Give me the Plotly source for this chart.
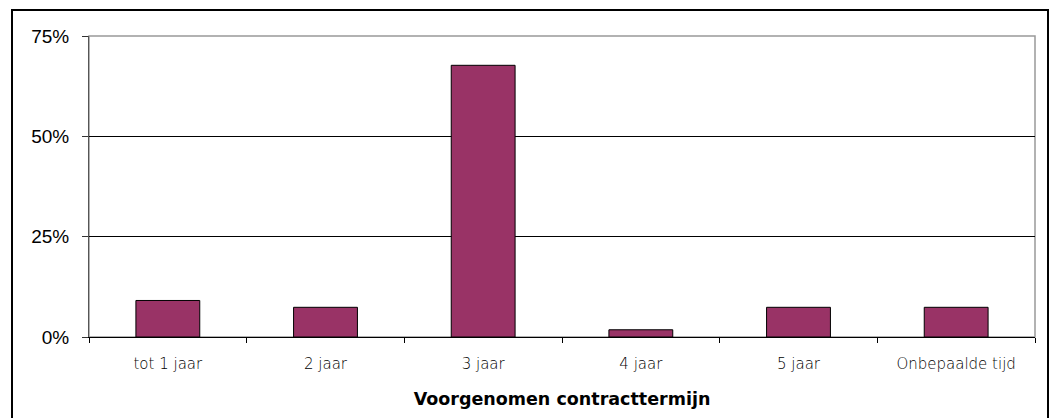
import plotly.graph_objects as go

categories = ["tot 1 jaar", "2 jaar", "3 jaar", "4 jaar", "5 jaar", "Onbepaalde tijd"]
values = [9.1, 7.4, 67.7, 1.8, 7.4, 7.4]
y_ticks = [0, 25, 50, 75]
y_tick_labels = ["0%", "25%", "50%", "75%"]
x_title = "Voorgenomen contracttermijn"

W, H = 1052, 418
L, R, T, B = 89, 17, 36, 81
pw, ph = W - L - R, H - T - B

fig = go.Figure(go.Bar(
    x=categories, y=values,
    marker=dict(color="#993366", line=dict(color="#000000", width=1)),
    width=0.405,
))

def px_x(p):
    return (p - L) / pw

def px_y(p):
    return (H - B - p) / ph

fig.update_layout(
    width=W, height=H,
    margin=dict(l=L, r=R, t=T, b=B),
    paper_bgcolor="white", plot_bgcolor="white",
    showlegend=False,
    xaxis=dict(
        type="category",
        tickson="boundaries",
        ticks="outside", ticklen=5, tickcolor="#000000",
        ticklabelstandoff=13,
        showline=True, linecolor="#000000", linewidth=1,
        showgrid=False,
        tickfont=dict(family="DejaVu Sans", size=15, weight=200, color="#000000"),
        title=dict(text="<b>" + x_title + "</b>",
                   font=dict(family="DejaVu Sans", size=17.5, color="#000000"),
                   standoff=20),
    ),
    yaxis=dict(
        range=[0, 75],
        tickvals=y_ticks, ticktext=y_tick_labels,
        ticks="outside", ticklen=6, tickcolor="#333333",
        ticklabelstandoff=9,
        showline=True, linecolor="#555555", linewidth=1,
        showgrid=True, gridcolor="#000000", gridwidth=1,
        zeroline=False,
        tickfont=dict(family="Liberation Sans, Arial", size=19, color="#000000"),
    ),
    shapes=[
        dict(type="rect", xref="paper", yref="paper", x0=0, x1=1, y0=0, y1=1,
             line=dict(color="#999999", width=1.5), layer="below"),
        dict(type="rect", xref="paper", yref="paper",
             x0=px_x(12), x1=px_x(1048), y0=px_y(430), y1=px_y(10),
             line=dict(color="#000000", width=2)),
    ],
)

fig.write_html("out.html", config={"displayModeBar": False},
               post_script="document.body.style.margin='0';")
